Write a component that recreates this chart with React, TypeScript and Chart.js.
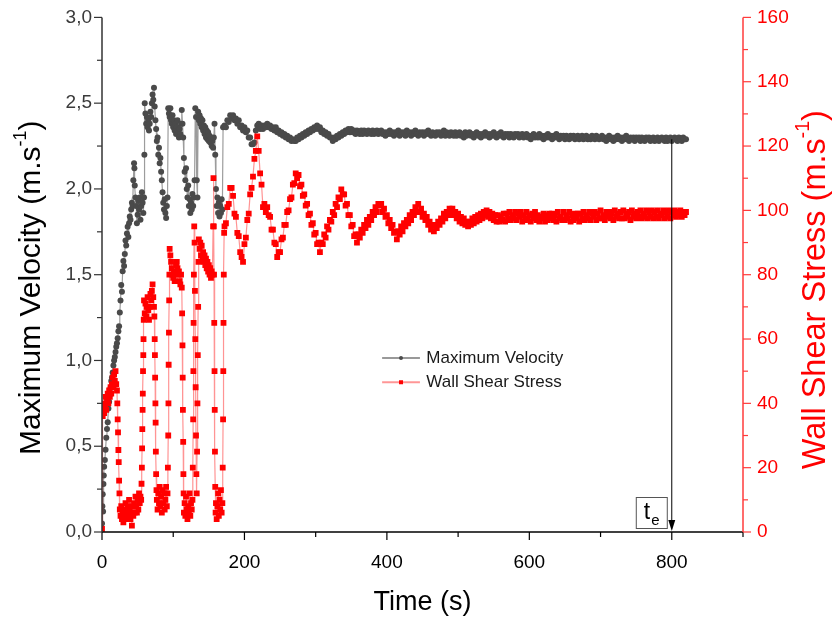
import React, { useEffect, useRef } from 'react';
import { Chart, registerables } from 'chart.js';

Chart.register(...registerables);

const FONT = '"Liberation Sans", Arial, Helvetica, sans-serif';

// ---------- data ----------
// Maximum velocity, start-up phase (time s, velocity m/s)
const velEarlyT = [0, 0.5, 1, 1.5, 2, 2.5, 3, 4, 5, 6, 7, 8, 9, 10, 11, 12, 13, 14, 15, 16, 17, 18, 19, 20, 21, 22, 23, 24, 25, 26, 27, 28, 29, 30, 31, 32, 33, 34, 35, 36, 37, 38, 39, 40, 41, 42, 43, 44, 45, 45.5, 46, 47, 48, 49, 50, 51, 52, 53, 54, 55, 56, 57, 58, 59, 59.5, 60, 61, 62, 63, 64, 65, 66, 67, 68, 69, 70, 71, 72, 73, 74, 75, 76, 77, 78, 79, 80, 81, 82, 83, 84, 85, 86, 87, 88, 89, 90, 91, 92, 93, 94, 95, 96, 97, 98, 99, 100, 101, 102, 103, 104, 105, 106, 107, 108, 109, 110, 111, 112, 113, 114, 115, 116, 117, 118, 119, 120, 121, 122, 123, 124, 125, 126, 127, 128, 129, 130, 131, 132, 133, 134, 135, 136, 137, 138, 139, 140, 141, 142, 143, 144, 145, 146, 147, 148, 149, 150, 151, 152, 153, 154, 155, 156, 157, 158, 159, 160, 161, 162, 163, 164, 165, 166, 167, 168, 169, 170];
const velEarlyV = [0.05, 0.15, 0.22, 0.12, 0.28, 0.33, 0.38, 0.42, 0.48, 0.55, 0.60, 0.64, 0.72, 0.76, 0.80, 0.84, 0.88, 0.90, 0.93, 0.97, 1.00, 1.02, 1.05, 1.08, 1.10, 1.13, 1.17, 1.20, 1.28, 1.35, 1.44, 1.40, 1.52, 1.58, 1.55, 1.62, 1.70, 1.67, 1.74, 1.78, 1.72, 1.80, 1.84, 1.82, 1.88, 1.92, 1.90, 2.05, 2.15, 2.12, 2.02, 1.95, 1.90, 1.80, 1.85, 1.93, 1.88, 1.95, 1.82, 1.90, 1.98, 1.92, 1.86, 1.95, 2.20, 2.50,
  2.44, 2.38, 2.42, 2.36, 2.40, 2.34, 2.38, 2.45, 2.42, 2.50, 2.55, 2.52, 2.59, 2.48, 2.40, 2.35, 2.28, 2.30, 2.20, 2.24, 2.15, 2.18, 2.10, 2.05, 1.98, 1.92, 1.88, 1.94, 1.86, 1.83, 1.90, 1.95,
  2.47, 2.44, 2.42, 2.47, 2.40, 2.38, 2.43, 2.36, 2.40, 2.34, 2.38, 2.32, 2.36, 2.40, 2.34, 2.30, 2.35, 2.32, 2.38, 2.46, 2.38, 2.30, 2.18, 2.10, 2.05, 2.12, 2.00, 1.95, 2.02, 1.90, 1.94, 1.86, 1.92, 1.88, 1.97, 1.90, 1.95, 2.05, 2.47, 2.42, 2.05, 1.95, 2.45, 2.40, 2.43, 2.38, 2.41, 2.36, 2.40, 2.34, 2.37, 2.32, 2.36, 2.30, 2.34, 2.29, 2.33, 2.28, 2.31, 2.27, 2.30, 2.25, 2.28, 2.24, 2.30, 2.38, 2.20, 2.00, 1.90, 1.95, 1.86, 1.92, 1.84, 1.90, 1.86, 1.94, 1.88, 2.36];

// Wall shear stress, start-up phase (time s, stress)
const wssEarlyT = [0, 0.5, 1, 2, 3, 4, 5, 6, 7, 8, 9, 10, 11, 12, 13, 14, 15, 16, 17, 18, 19, 20, 21, 21.5, 22, 22.5, 23, 23.5, 24, 24.5, 25, 26, 27, 28, 29, 30, 31, 32, 33, 34, 35, 36, 37, 38, 39, 40, 41, 42, 43, 44, 45, 46, 47, 48, 49, 50, 51, 52, 53, 54, 55, 55.5, 56, 56.3, 56.6, 57, 57.3, 57.6, 58, 58.3, 58.6, 59, 60, 61, 62, 63, 64, 65, 66, 67, 68, 69, 70, 71, 72, 73, 73.5, 74, 74.3, 74.6, 75, 75.3, 75.6, 76, 76.5, 77, 78, 79, 80, 81, 82, 83, 84, 85, 86, 87, 88, 89, 90, 91, 92, 92.5, 93, 93.3, 93.6, 94, 94.3, 94.6, 95, 96, 97, 98, 99, 100, 101, 102, 103, 104, 105, 106, 107, 108, 109, 110, 111, 112, 112.5, 113, 113.3, 113.6, 114, 114.3, 114.6, 115, 116, 117, 118, 119, 120, 121, 122, 123, 124, 125, 126, 127, 127.5, 128, 128.3, 128.6, 129, 129.5, 130, 130.5, 131, 131.5, 132, 132.5, 133, 133.5, 134, 134.5, 135, 135.5, 136, 137, 138, 139, 140, 141, 142, 143, 144, 145, 146, 147, 148, 149, 150, 151, 152, 153, 154, 155, 156, 156.5, 157, 157.3, 157.6, 158, 158.3, 158.6, 159, 159.5, 160, 161, 162, 163, 164, 165, 166, 167, 168, 169, 169.5, 170, 170.3, 170.6, 171, 171.5];
const wssEarlyW = [1, 38, 36, 40, 37, 39, 42, 38, 41, 43, 40, 44, 42, 45, 43, 46, 48, 45, 49, 47, 50, 46, 44,
  40, 35, 31, 25.5, 21.7, 16, 12,
  7, 5, 8, 4, 6, 3, 7, 5, 9, 6, 4, 8, 5, 10, 7, 4, 6, 2, 8, 5, 9, 6, 11, 8, 6, 10, 7, 12, 9, 11, 10,
  15, 20, 26, 32, 38, 43, 50, 55, 60, 66,
  72, 68, 71, 67, 70, 73, 69, 66, 70, 74, 72, 75, 77, 73, 70,
  67, 60, 55, 48, 40, 34, 25, 18, 13,
  10, 7, 12, 9, 14, 8, 11, 6, 13, 9, 12, 7, 10, 14, 8, 12,
  20, 30, 40, 52, 62, 72, 80,
  88, 86, 84, 82, 80, 79, 81, 78, 80, 83, 84, 82, 80, 81, 78, 77, 80, 76,
  68, 58, 48, 38, 28, 18, 12,
  6, 9, 5, 11, 7, 4, 8, 6, 12, 5, 9, 7, 10,
  20, 35, 50, 65, 80, 95, 90, 75, 60, 45, 30, 18, 12, 25, 40, 55, 70, 84,
  91, 88, 90, 86, 89, 85, 87, 84, 86, 83, 85, 82, 84, 81, 83, 80, 82, 79, 81, 80,
  95, 110, 95, 80, 65, 50, 38, 25, 14, 6,
  9, 4, 8, 12, 5, 10, 7, 13, 6, 9,
  20, 35, 50, 65, 80, 93];

// Settled phase: one sample every 2 s from 172 s to 820 s (rows of 20 s)
const lateStartT = 172;
const lateStepT = 2;
const velLateV = [
  2.37, 2.36, 2.40, 2.39, 2.43, 2.41, 2.43, 2.40, 2.41, 2.38,
  2.40, 2.36, 2.37, 2.34, 2.36, 2.33, 2.34, 2.30, 2.30, 2.26,
  2.26, 2.27, 2.34, 2.37, 2.38, 2.35, 2.37, 2.35, 2.37, 2.36,
  2.38, 2.36, 2.37, 2.35, 2.36, 2.34, 2.36, 2.33, 2.34, 2.32,
  2.33, 2.31, 2.32, 2.30, 2.31, 2.29, 2.30, 2.28, 2.29, 2.28,
  2.28, 2.30, 2.29, 2.31, 2.30, 2.32, 2.31, 2.33, 2.32, 2.34,
  2.33, 2.35, 2.34, 2.36, 2.35, 2.37, 2.35, 2.36, 2.33, 2.34,
  2.32, 2.33, 2.31, 2.32, 2.30, 2.30, 2.28, 2.30, 2.29, 2.31,
  2.30, 2.32, 2.31, 2.33, 2.32, 2.34, 2.33, 2.35, 2.33, 2.35,
  2.33, 2.34, 2.32, 2.34, 2.33, 2.32, 2.34, 2.32, 2.34, 2.33,
  2.32, 2.34, 2.33, 2.32, 2.34, 2.32, 2.33, 2.34, 2.32, 2.33,
  2.34, 2.32, 2.33, 2.31, 2.33, 2.32, 2.34, 2.32, 2.33, 2.31,
  2.33, 2.32, 2.34, 2.31, 2.33, 2.32, 2.33, 2.31, 2.34, 2.32,
  2.33, 2.31, 2.33, 2.32, 2.34, 2.32, 2.31, 2.33, 2.32, 2.33,
  2.31, 2.33, 2.32, 2.34, 2.32, 2.31, 2.33, 2.32, 2.31, 2.33,
  2.32, 2.33, 2.31, 2.32, 2.34, 2.31, 2.33, 2.32, 2.31, 2.33,
  2.32, 2.31, 2.33, 2.31, 2.32, 2.33, 2.31, 2.32, 2.30, 2.33,
  2.31, 2.32, 2.33, 2.31, 2.32, 2.30, 2.32, 2.33, 2.31, 2.32,
  2.30, 2.32, 2.31, 2.33, 2.31, 2.32, 2.30, 2.32, 2.31, 2.33,
  2.31, 2.30, 2.32, 2.31, 2.33, 2.31, 2.30, 2.32, 2.31, 2.32,
  2.30, 2.32, 2.31, 2.30, 2.32, 2.31, 2.32, 2.30, 2.31, 2.32,
  2.30, 2.31, 2.32, 2.30, 2.31, 2.29, 2.31, 2.32, 2.30, 2.31,
  2.30, 2.32, 2.30, 2.31, 2.29, 2.31, 2.30, 2.32, 2.30, 2.31,
  2.29, 2.31, 2.30, 2.32, 2.30, 2.29, 2.31, 2.30, 2.31, 2.29,
  2.31, 2.30, 2.29, 2.31, 2.30, 2.31, 2.29, 2.30, 2.31, 2.29,
  2.30, 2.31, 2.29, 2.30, 2.31, 2.29, 2.30, 2.29, 2.31, 2.30,
  2.29, 2.31, 2.30, 2.29, 2.30, 2.31, 2.29, 2.30, 2.28, 2.30,
  2.31, 2.29, 2.30, 2.28, 2.30, 2.29, 2.31, 2.29, 2.30, 2.28,
  2.30, 2.29, 2.31, 2.29, 2.28, 2.30, 2.29, 2.30, 2.28, 2.30,
  2.29, 2.30, 2.28, 2.30, 2.29, 2.28, 2.30, 2.29, 2.30, 2.28,
  2.29, 2.30, 2.28, 2.29, 2.30, 2.28, 2.29, 2.30, 2.29, 2.28,
  2.30, 2.28, 2.29, 2.30, 2.28, 2.29, 2.30, 2.29, 2.28, 2.30,
  2.29, 2.28, 2.30, 2.29, 2.29];
const wssLateW = [
  95, 96, 101, 102, 107, 107, 104.5, 99, 98, 93,
  92, 87, 85.5, 84, 89.5, 91.5, 97, 99, 105, 107,
  110.5, 116, 118.5, 123, 118.5, 111.5, 108, 101, 102, 99.5,
  101, 98.5, 98, 94, 94, 90, 89.5, 85.5, 87, 87,
  91, 91.5, 95.5, 95.5, 99.5, 100, 103.5, 104, 108, 108.5,
  111.5, 110, 111, 107.5, 108, 104.5, 105, 101.5, 102, 98.5,
  99, 95.5, 96, 92.5, 93, 89.5, 90, 87, 90, 89.5,
  92.5, 91.5, 95, 94, 97, 96.5, 99.5, 98.5, 102, 101,
  104, 103.5, 106.5, 105, 105, 101.5, 102, 98.5, 98.5, 95,
  95.5, 92, 92.5, 90, 92.5, 91.5, 94, 93, 95.5, 94.5,
  97, 95.5, 98, 97, 99.5, 98.5, 101, 99.5, 102, 101.5,
  102, 99.5, 100.5, 98, 98.5, 96, 97, 94.5, 95.5, 93,
  93.5, 91, 93.5, 92.5, 95, 93.5, 96, 95, 97, 96,
  98.5, 97, 99.5, 98.5, 101, 99.5, 102, 99.5, 100.5, 98,
  99, 97, 98, 95.5, 96.5, 94, 95.5, 93.5, 95.5, 94.5,
  96.5, 95.5, 97.5, 96.5, 99, 97.5, 99.5, 98.5, 100.5, 99,
  100.5, 98.5, 99.5, 97.5, 99, 96.5, 98, 96, 97.5, 95.5,
  96.5, 95, 96.5, 95.5, 97.5, 96, 98, 96.5, 98.5, 97,
  99, 97.5, 99.5, 98.5, 100, 98, 99.5, 97.5, 99, 97,
  98.5, 96.5, 98.5, 96.5, 98, 97, 99, 96.5, 99, 97.5,
  99.5, 97, 98.5, 97.5, 99.5, 97, 99, 98, 99.5, 96.5,
  98.5, 97, 99.5, 97.5, 98.5, 96.5, 99, 97.5, 99.5, 97,
  98.5, 96.5, 98, 97.5, 99, 96.5, 98.5, 97, 99, 97.5,
  99, 97, 98.5, 96.5, 99.5, 97.5, 98, 97, 99.5, 97,
  98.5, 97.5, 99.5, 96.5, 98.5, 97, 99, 97.5, 99, 96.5,
  99, 97.5, 99.5, 97, 98.5, 97.5, 99.5, 97, 99, 98,
  99.5, 97, 99, 97.5, 100, 97.5, 98.5, 97, 99.5, 98,
  99.5, 97.5, 99, 97, 100, 98, 99, 97.5, 99.5, 97.5,
  100, 97.5, 99, 98, 99.5, 97, 100, 98, 99, 97.5,
  99.5, 98, 100, 97.5, 99, 98, 100, 97.5, 99.5, 98,
  100, 97.5, 99.5, 98, 100, 97.5, 99, 98.5, 100, 97.5,
  99.5, 98, 100, 97.5, 99.5, 98.5, 100, 98, 99.5, 98.5,
  100, 98, 99.5, 98.5, 99.5];

// ---------- axes / labels ----------
const xMajorTicks = [0, 200, 400, 600, 800];
const xMinorTicks = [100, 300, 500, 700, 900];
const velMajorTicks = [0, 0.5, 1, 1.5, 2, 2.5, 3];
const velMinorTicks = [0.25, 0.75, 1.25, 1.75, 2.25, 2.75];
const wssMajorTicks = [0, 20, 40, 60, 80, 100, 120, 140, 160];
const wssMinorTicks = [10, 30, 50, 70, 90, 110, 130, 150];
const xTitle = 'Time (s)';
const velTitle = ['Maximum Velocity (m.s', '-1', ')'];
const wssTitle = ['Wall Shear Stress (m.s', '-1', ')'];
const seriesNames = ['Maximum Velocity', 'Wall Shear Stress'];
const teLabel = ['t', 'e'];
const teTime = 800;
const teVelocity = 2.29;

const GREY_PT = '#4a4a4a';
const GREY_LINE = '#9c9c9c';
const RED = '#ff0000';
const RED_LINE = 'rgba(255,60,60,0.55)';
const RED_AXIS = '#ff3b3b';

function buildPoints(t: number[], v: number[]) {
  const n = Math.min(t.length, v.length);
  const out: { x: number; y: number }[] = [];
  for (let i = 0; i < n; i++) out.push({ x: t[i], y: v[i] });
  return out;
}
function buildLate(v: number[]) {
  return v.map((y, i) => ({ x: lateStartT + i * lateStepT, y }));
}

function drawRich(ctx: CanvasRenderingContext2D, parts: string[], size: number, cx: number, cy: number, rot: number, color: string) {
  ctx.save();
  ctx.translate(cx, cy);
  ctx.rotate(rot);
  ctx.fillStyle = color;
  ctx.textBaseline = 'middle';
  ctx.textAlign = 'left';
  const sizes = [size, size * 0.6, size];
  const dys = [0, -size * 0.38, 0];
  let total = 0;
  const widths = parts.map((p, i) => {
    ctx.font = `${sizes[i]}px ${FONT}`;
    const w = ctx.measureText(p).width;
    total += w;
    return w;
  });
  let x = -total / 2;
  parts.forEach((p, i) => {
    ctx.font = `${sizes[i]}px ${FONT}`;
    ctx.fillText(p, x, dys[i]);
    x += widths[i];
  });
  ctx.restore();
}

const decorPlugin = {
  id: 'decor',
  afterDraw(chart: any) {
    const { ctx, chartArea: ca, scales } = chart;
    const xs = scales.x;
    const yv = scales.y;
    const yw = scales.y1;
    ctx.save();
    // axis lines
    ctx.lineWidth = 1.5;
    ctx.strokeStyle = '#000';
    ctx.beginPath();
    ctx.moveTo(ca.left, ca.bottom);
    ctx.lineTo(ca.right, ca.bottom);
    ctx.stroke();
    ctx.strokeStyle = '#333';
    ctx.beginPath();
    ctx.moveTo(ca.left, ca.top);
    ctx.lineTo(ca.left, ca.bottom);
    ctx.stroke();
    ctx.strokeStyle = RED_AXIS;
    ctx.beginPath();
    ctx.moveTo(ca.right, ca.top);
    ctx.lineTo(ca.right, ca.bottom);
    ctx.stroke();

    const MAJ = 8;
    const MIN = 5;
    ctx.lineWidth = 1.2;
    ctx.strokeStyle = '#000';
    xMajorTicks.forEach((v) => {
      const p = xs.getPixelForValue(v);
      ctx.beginPath(); ctx.moveTo(p, ca.bottom); ctx.lineTo(p, ca.bottom + MAJ); ctx.stroke();
    });
    xMinorTicks.forEach((v) => {
      const p = xs.getPixelForValue(v);
      ctx.beginPath(); ctx.moveTo(p, ca.bottom); ctx.lineTo(p, ca.bottom + MIN); ctx.stroke();
    });
    ctx.strokeStyle = '#333';
    velMajorTicks.forEach((v) => {
      const p = yv.getPixelForValue(v);
      ctx.beginPath(); ctx.moveTo(ca.left, p); ctx.lineTo(ca.left - MAJ, p); ctx.stroke();
    });
    velMinorTicks.forEach((v) => {
      const p = yv.getPixelForValue(v);
      ctx.beginPath(); ctx.moveTo(ca.left, p); ctx.lineTo(ca.left - MIN, p); ctx.stroke();
    });
    ctx.strokeStyle = RED_AXIS;
    wssMajorTicks.forEach((v) => {
      const p = yw.getPixelForValue(v);
      ctx.beginPath(); ctx.moveTo(ca.right, p); ctx.lineTo(ca.right + MAJ, p); ctx.stroke();
    });
    wssMinorTicks.forEach((v) => {
      const p = yw.getPixelForValue(v);
      ctx.beginPath(); ctx.moveTo(ca.right, p); ctx.lineTo(ca.right + MIN, p); ctx.stroke();
    });

    // axis titles
    const midY = (ca.top + ca.bottom) / 2 + 13;
    drawRich(ctx, velTitle, 30, 32, midY, -Math.PI / 2, '#000');
    drawRich(ctx, wssTitle, 32.5, 816, midY + 2, -Math.PI / 2, RED);
    ctx.fillStyle = '#000';
    ctx.font = `27px ${FONT}`;
    ctx.textAlign = 'center';
    ctx.textBaseline = 'middle';
    ctx.fillText(xTitle, (ca.left + ca.right) / 2, 603);

    // legend
    const lx0 = ca.left + 0.437 * (ca.right - ca.left);
    const lx1 = ca.left + 0.496 * (ca.right - ca.left);
    const tx = ca.left + 0.506 * (ca.right - ca.left);
    const rows = [ca.top + 0.662 * (ca.bottom - ca.top), ca.top + 0.709 * (ca.bottom - ca.top)];
    ctx.font = `17px ${FONT}`;
    ctx.textAlign = 'left';
    ctx.textBaseline = 'middle';
    ctx.strokeStyle = '#777';
    ctx.lineWidth = 1.5;
    ctx.beginPath(); ctx.moveTo(lx0, rows[0]); ctx.lineTo(lx1, rows[0]); ctx.stroke();
    ctx.fillStyle = GREY_PT;
    ctx.beginPath(); ctx.arc((lx0 + lx1) / 2, rows[0], 2, 0, Math.PI * 2); ctx.fill();
    ctx.fillStyle = '#1a1a1a';
    ctx.fillText(seriesNames[0], tx, rows[0]);
    ctx.strokeStyle = 'rgba(255,80,80,0.6)';
    ctx.lineWidth = 2;
    ctx.beginPath(); ctx.moveTo(lx0, rows[1]); ctx.lineTo(lx1, rows[1]); ctx.stroke();
    ctx.fillStyle = RED;
    ctx.fillRect((lx0 + lx1) / 2 - 2, rows[1] - 2, 4, 4);
    ctx.fillStyle = '#1a1a1a';
    ctx.fillText(seriesNames[1], tx, rows[1]);

    // t_e marker
    const ax = xs.getPixelForValue(teTime);
    const ay0 = yv.getPixelForValue(teVelocity);
    const ay1 = yv.getPixelForValue(0);
    ctx.strokeStyle = '#000';
    ctx.lineWidth = 1;
    ctx.beginPath(); ctx.moveTo(ax, ay0); ctx.lineTo(ax, ay1 - 10); ctx.stroke();
    ctx.fillStyle = '#000';
    ctx.beginPath();
    ctx.moveTo(ax - 3.5, ay1 - 12);
    ctx.lineTo(ax + 3.5, ay1 - 12);
    ctx.lineTo(ax, ay1 - 1);
    ctx.closePath();
    ctx.fill();
    const bx = ax - 36;
    const by = ay1 - 35;
    ctx.fillStyle = '#fff';
    ctx.fillRect(bx, by, 31, 31);
    ctx.strokeStyle = '#555';
    ctx.lineWidth = 1;
    ctx.strokeRect(bx + 0.5, by + 0.5, 31, 31);
    ctx.fillStyle = '#000';
    ctx.font = `23px ${FONT}`;
    ctx.textBaseline = 'alphabetic';
    ctx.fillText(teLabel[0], bx + 8, by + 22);
    const tw = ctx.measureText(teLabel[0]).width;
    ctx.font = `15px ${FONT}`;
    ctx.fillText(teLabel[1], bx + 8 + tw + 1, by + 28);
    ctx.restore();
  },
};

export default function App() {
  const ref = useRef<HTMLCanvasElement | null>(null);
  useEffect(() => {
    if (!ref.current) return;
    const chart = new Chart(ref.current, {
      type: 'line',
      data: {
        datasets: [
          {
            label: seriesNames[1],
            data: [...buildPoints(wssEarlyT, wssEarlyW), ...buildLate(wssLateW)],
            yAxisID: 'y1',
            borderColor: RED_LINE,
            borderWidth: 1.2,
            pointStyle: 'rect',
            pointRadius: 4.1,
            pointBackgroundColor: RED,
            pointBorderWidth: 0,
            tension: 0,
            order: 0,
          },
          {
            label: seriesNames[0],
            data: [...buildPoints(velEarlyT, velEarlyV), ...buildLate(velLateV)],
            yAxisID: 'y',
            borderColor: GREY_LINE,
            borderWidth: 1.2,
            pointStyle: 'circle',
            pointRadius: 3,
            pointBackgroundColor: GREY_PT,
            pointBorderWidth: 0,
            tension: 0,
            order: 1,
          },
        ],
      },
      options: {
        animation: false,
        responsive: false,
        parsing: false as any,
        normalized: true,
        layout: { padding: { top: 17, left: 0, right: 0, bottom: 0 } },
        plugins: { legend: { display: false }, tooltip: { enabled: false } },
        scales: {
          x: {
            type: 'linear',
            position: 'bottom',
            min: 0,
            max: 900,
            afterBuildTicks: (s: any) => { s.ticks = xMajorTicks.map((value) => ({ value })); },
            afterFit: (s: any) => { s.height = 87; },
            grid: { display: true, drawOnChartArea: false, drawTicks: true, tickLength: 8, color: 'rgba(0,0,0,0)' },
            border: { display: false },
            ticks: { color: '#000', font: { family: FONT, size: 19 }, padding: 11, maxRotation: 0, callback: (v: any) => String(v) },
          },
          y: {
            type: 'linear',
            position: 'left',
            min: 0,
            max: 3,
            afterBuildTicks: (s: any) => { s.ticks = velMajorTicks.map((value) => ({ value })); },
            afterFit: (s: any) => { s.width = 102; },
            grid: { display: true, drawOnChartArea: false, drawTicks: true, tickLength: 8, color: 'rgba(0,0,0,0)' },
            border: { display: false },
            ticks: { color: '#3a3a3a', font: { family: FONT, size: 19 }, padding: 2, callback: (v: any) => Number(v).toFixed(1).replace('.', ',') },
          },
          y1: {
            type: 'linear',
            position: 'right',
            min: 0,
            max: 160,
            afterBuildTicks: (s: any) => { s.ticks = wssMajorTicks.map((value) => ({ value })); },
            afterFit: (s: any) => { s.width = 92; },
            grid: { display: true, drawOnChartArea: false, drawTicks: true, tickLength: 8, color: 'rgba(0,0,0,0)' },
            border: { display: false },
            ticks: { color: RED, font: { family: FONT, size: 19 }, padding: 6, callback: (v: any) => String(v) },
          },
        },
      },
      plugins: [decorPlugin],
    });
    return () => chart.destroy();
  }, []);
  return (
    <div style={{ position: 'absolute', left: 0, top: 0, width: 835, height: 619, background: '#fff' }}>
      <canvas ref={ref} width={835} height={619} />
    </div>
  );
}
